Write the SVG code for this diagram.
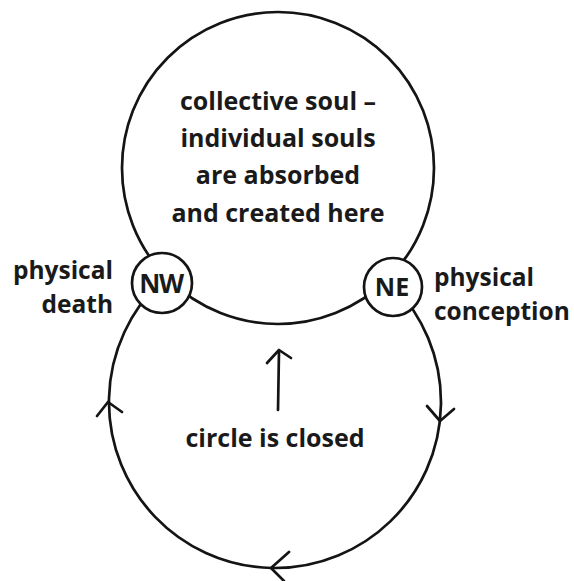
<svg xmlns="http://www.w3.org/2000/svg" width="574" height="581" viewBox="0 0 574 581">
<style>
.ln{fill:none;stroke:#141414;stroke-width:2.7;stroke-linecap:round;stroke-linejoin:round}
.nd{fill:#fff;stroke:#141414;stroke-width:2.7}
.t{font-family:"Open Sans","Noto Sans","Liberation Sans",sans-serif;font-weight:700;fill:#1a1a1a;font-size:25px}
.s{font-size:24.5px}
.c{text-anchor:middle}
.r{text-anchor:end}
</style>
<rect width="574" height="581" fill="#fff"/>
<g id="connectors">
<circle class="ln" cx="278" cy="168" r="156"/>
<path class="ln" d="M 160.7 281.6 A 166 166 0 1 0 393.8 286.1"/>
<path class="ln" d="M 97 416 L 108 402 L 122 412"/>
<path class="ln" d="M 427 406 L 440 421 L 454 409"/>
<path class="ln" d="M 289 552 L 271 568 L 284 581"/>
<path class="ln" d="M 278 410 L 279 351"/>
<path class="ln" d="M 267 363 L 279 350 L 291 358"/>
</g>
<g id="collective">
<text class="t c"><tspan x="278" y="110">collective soul –</tspan><tspan x="278" y="147">individual souls</tspan><tspan x="278" y="184">are absorbed</tspan><tspan x="278" y="222">and created here</tspan></text>
</g>
<g id="nw">
<circle class="nd" cx="162" cy="283" r="30"/>
<text class="t c" x="161" y="293" style="font-size:26px;letter-spacing:-1.5px">NW</text>
</g>
<g id="ne">
<circle class="nd" cx="393" cy="287" r="29"/>
<text class="t c" x="392" y="296" style="font-size:25px">NE</text>
</g>
<g id="labels">
<text class="t s r"><tspan x="113" y="279">physical</tspan><tspan x="113" y="313">death</tspan></text>
<text class="t s"><tspan x="434" y="286">physical</tspan><tspan x="434" y="320">conception</tspan></text>
<text class="t c" x="275" y="447">circle is closed</text>
</g>
</svg>
